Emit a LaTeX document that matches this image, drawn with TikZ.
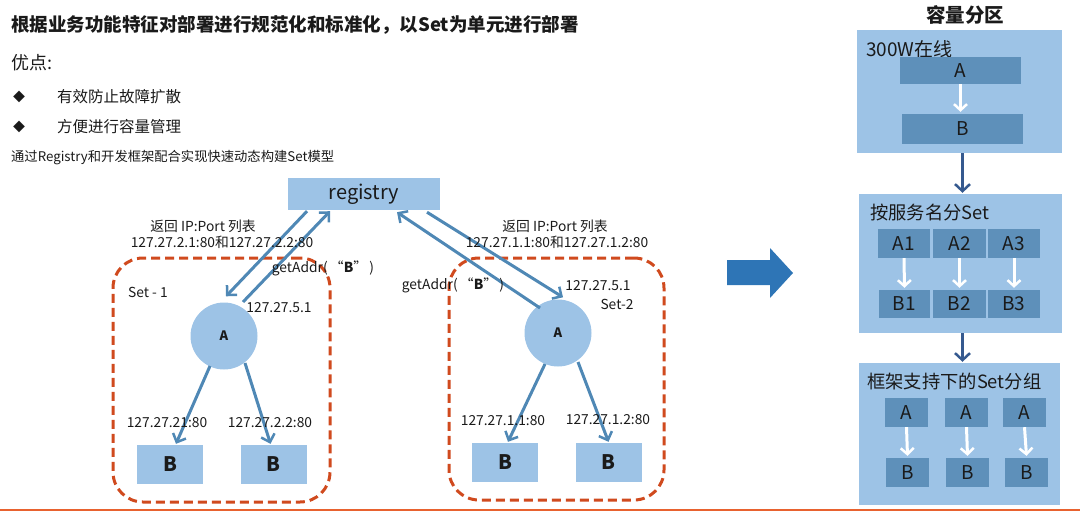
\documentclass[tikz,border=0pt]{standalone}
\usepackage{fontspec}
\setmainfont{Noto Sans CJK SC}
\usetikzlibrary{arrows.meta,calc}
\definecolor{lb}{HTML}{9DC3E6}
\definecolor{mb}{HTML}{5E90BA}
\definecolor{ab}{HTML}{4F88B5}
\definecolor{db}{HTML}{35598F}
\definecolor{rd}{HTML}{D04A1E}
\definecolor{bb}{HTML}{2E75B6}
\definecolor{ol}{HTML}{E8622F}
\definecolor{tx}{HTML}{1A1A1A}
\newcommand\fsz[1]{\fontsize{#1}{#1}\selectfont}
\begin{document}
\begin{tikzpicture}[x=1pt,y=-1pt,text=tx,
  box/.style={fill=lb,draw=none,inner sep=0pt},
  ibox/.style={fill=mb,draw=none,inner sep=0pt,font=\fsz{19}},
  setbox/.style={draw=rd,line width=3pt,dash pattern=on 9pt off 5pt,rounded corners=30pt,inner sep=0pt},
  anode/.style={circle,fill=lb,inner sep=0pt,minimum size=67pt,font=\bfseries\fsz{13}},
  bnode/.style={fill=lb,inner sep=0pt,minimum width=66pt,minimum height=39pt,font=\bfseries\fsz{20}},
  arr/.style={draw=ab,line width=3pt,-{Straight Barb[length=7pt,width=14pt,line width=2.5pt]}},
  warr/.style={draw=white,line width=3pt,-{Straight Barb[length=6pt,width=13pt,line width=2.5pt]}},
  darr/.style={draw=db,line width=3pt,-{Straight Barb[length=7pt,width=15pt,line width=2.5pt]}},
  lbl/.style={font=\fsz{13.8},inner sep=0pt},
  ptxt/.style={inner sep=0pt,anchor=west}]
\useasboundingbox (0,0) rectangle (1080,511);

% left text
\node[anchor=west,inner sep=0pt,font=\bfseries\fsz{18.5}] (title) at (11,25) {根据业务功能特征对部署进行规范化和标准化，以Set为单元进行部署};
\node[anchor=west,inner sep=0pt,font=\fsz{18}] (adv) at (11,63) {优点:};
\node[anchor=west,inner sep=0pt,font=\fsz{12}] (d1) at (13,97) {◆};
\node[anchor=west,inner sep=0pt,font=\fsz{15.5}] (t1) at (57,97) {有效防止故障扩散};
\node[anchor=west,inner sep=0pt,font=\fsz{12}] (d2) at (13,127) {◆};
\node[anchor=west,inner sep=0pt,font=\fsz{15.5}] (t2) at (57,127) {方便进行容量管理};
\node[anchor=west,inner sep=0pt,font=\fsz{13.3}] (t3) at (11,158) {通过Registry和开发框架配合实现快速动态构建Set模型};

% registry
\node[box,minimum width=152pt,minimum height=32pt,font=\fsz{20}] (reg) at (364,194) {registry};

% sets
\node[setbox,minimum width=217pt,minimum height=244pt] (set1) at (221.5,380) {};
\node[setbox,minimum width=215pt,minimum height=242pt] (set2) at (556.5,379) {};

\node[anode] (a1) at (224,336) {A};
\node[anode] (a2) at (558,333) {A};

\node[bnode] (b11) at (170,464.5) {B};
\node[bnode] (b12) at (273.5,464.5) {B};
\node[bnode] (b21) at (505,462.5) {B};
\node[bnode] (b22) at (608.5,462.5) {B};

% registry arrows
\draw[arr] ($(reg.south)+(-57,1)$) -- ($(a1.north)+(2,-6)$);
\draw[arr] ($(a1.center)+(19,-34)$) -- ($(reg.south)+(-34,1)$);
\draw[arr] ($(a2.center)+(-18,-25)$) -- ($(reg.south)+(33,2)$);
\draw[arr] ($(reg.south)+(63,2)$) -- ($(a2.north)+(5,-2)$);

% A -> B arrows
\draw[arr] ($(a1.center)+(-14,30)$) -- ($(b11.north)+(6,-1)$);
\draw[arr] ($(a1.center)+(21,27)$) -- ($(b12.north)+(-3,-1)$);
\draw[arr] ($(a2.center)+(-13,31)$) -- ($(b21.north)+(3,-1)$);
\draw[arr] ($(a2.center)+(20,29)$) -- ($(b22.north)+(0,-1)$);

% labels
\node[lbl] (r1a) at (203,226) {返回 IP:Port 列表};
\node[lbl] (r1b) at (222,242) {127.27.2.1:80和127.27.2.2:80};
\node[lbl] (g1) at (323,268) {getAddr(\,“\textbf{B}”\,)};
\node[lbl] (s1) at (148,292) {Set - 1};
\node[lbl] (ip1) at (279,308) {127.27.5.1};
\node[lbl] (r2a) at (555,226) {返回 IP:Port 列表};
\node[lbl] (r2b) at (557,242) {127.27.1.1:80和127.27.1.2:80};
\node[lbl] (g2) at (453,285) {getAddr(\,“\textbf{B}”\,)};
\node[lbl] (ip2) at (598,286) {127.27.5.1};
\node[lbl] (s2) at (617,304) {Set-2};
\node[lbl] (l11) at (167,423) {127.27.21:80};
\node[lbl] (l12) at (270,423) {127.27.2.2:80};
\node[lbl] (l21) at (503,421) {127.27.1.1:80};
\node[lbl] (l22) at (608,420) {127.27.1.2:80};

% big arrow
\fill[bb] (727,260) -- (770,260) -- (770,248) -- (793,273) -- (770,298) -- (770,285) -- (727,285) -- cycle;

% right panel
\node[inner sep=0pt,font=\bfseries\fsz{19.5}] (rt) at (965,15) {容量分区};

\node[box,minimum width=205pt,minimum height=123pt] (p1) at (959.5,91.5) {};
\node[ptxt,font=\fsz{19}] (p1t) at (866,49) {300W在线};
\node[ibox,minimum width=121pt,minimum height=27pt] (p1a) at (960.5,70.5) {A};
\node[ibox,minimum width=121pt,minimum height=30pt] (p1b) at (962.5,129) {B};
\draw[warr] (p1a.south) -- ($(p1b.north)+(-2,-2)$);

\node[box,minimum width=203pt,minimum height=139pt] (p2) at (960.5,263.5) {};
\node[ptxt,font=\fsz{18.3}] (p2t) at (870,213) {按服务名分Set};
\node[ibox,minimum width=52pt,minimum height=29pt] (a21) at (904,243.5) {A1};
\node[ibox,minimum width=53pt,minimum height=29pt] (a22) at (959.5,243.5) {A2};
\node[ibox,minimum width=52pt,minimum height=29pt] (a23) at (1014,243.5) {A3};
\node[ibox,minimum width=51pt,minimum height=28pt] (b21r) at (904.5,304) {B1};
\node[ibox,minimum width=53pt,minimum height=28pt] (b22r) at (959.5,304) {B2};
\node[ibox,minimum width=52pt,minimum height=28pt] (b23r) at (1014,304) {B3};
\draw[warr] (a21.south) -- ($(b21r.north)+(0,-2)$);
\draw[warr] (a22.south) -- ($(b22r.north)+(0,-2)$);
\draw[warr] (a23.south) -- ($(b23r.north)+(0,-2)$);

\node[box,minimum width=201pt,minimum height=142pt] (p3) at (959.5,434) {};
\node[ptxt,font=\fsz{18.3}] (p3t) at (867,382) {框架支持下的Set分组};
\node[ibox,minimum width=43pt,minimum height=29pt] (a31) at (906.5,412.5) {A};
\node[ibox,minimum width=43pt,minimum height=29pt] (a32) at (966.5,412.5) {A};
\node[ibox,minimum width=43pt,minimum height=29pt] (a33) at (1024.5,412.5) {A};
\node[ibox,minimum width=43pt,minimum height=29pt] (b31) at (907.5,472.5) {B};
\node[ibox,minimum width=43pt,minimum height=29pt] (b32) at (967.5,472.5) {B};
\node[ibox,minimum width=43pt,minimum height=29pt] (b33) at (1026.5,472.5) {B};
\draw[warr] (a31.south) -- ($(b31.north)+(0,-2)$);
\draw[warr] (a32.south) -- ($(b32.north)+(0,-2)$);
\draw[warr] (a33.south) -- ($(b33.north)+(0,-2)$);

\draw[darr] ($(p1.south)+(3,0)$) -- ($(p2.north)+(2,-1)$);
\draw[darr] ($(p2.south)+(2,0)$) -- ($(p3.north)+(3,-1)$);

% bottom line
\draw[ol,line width=2pt] (0,509.5) -- (1080,509.5);
\end{tikzpicture}
\end{document}
